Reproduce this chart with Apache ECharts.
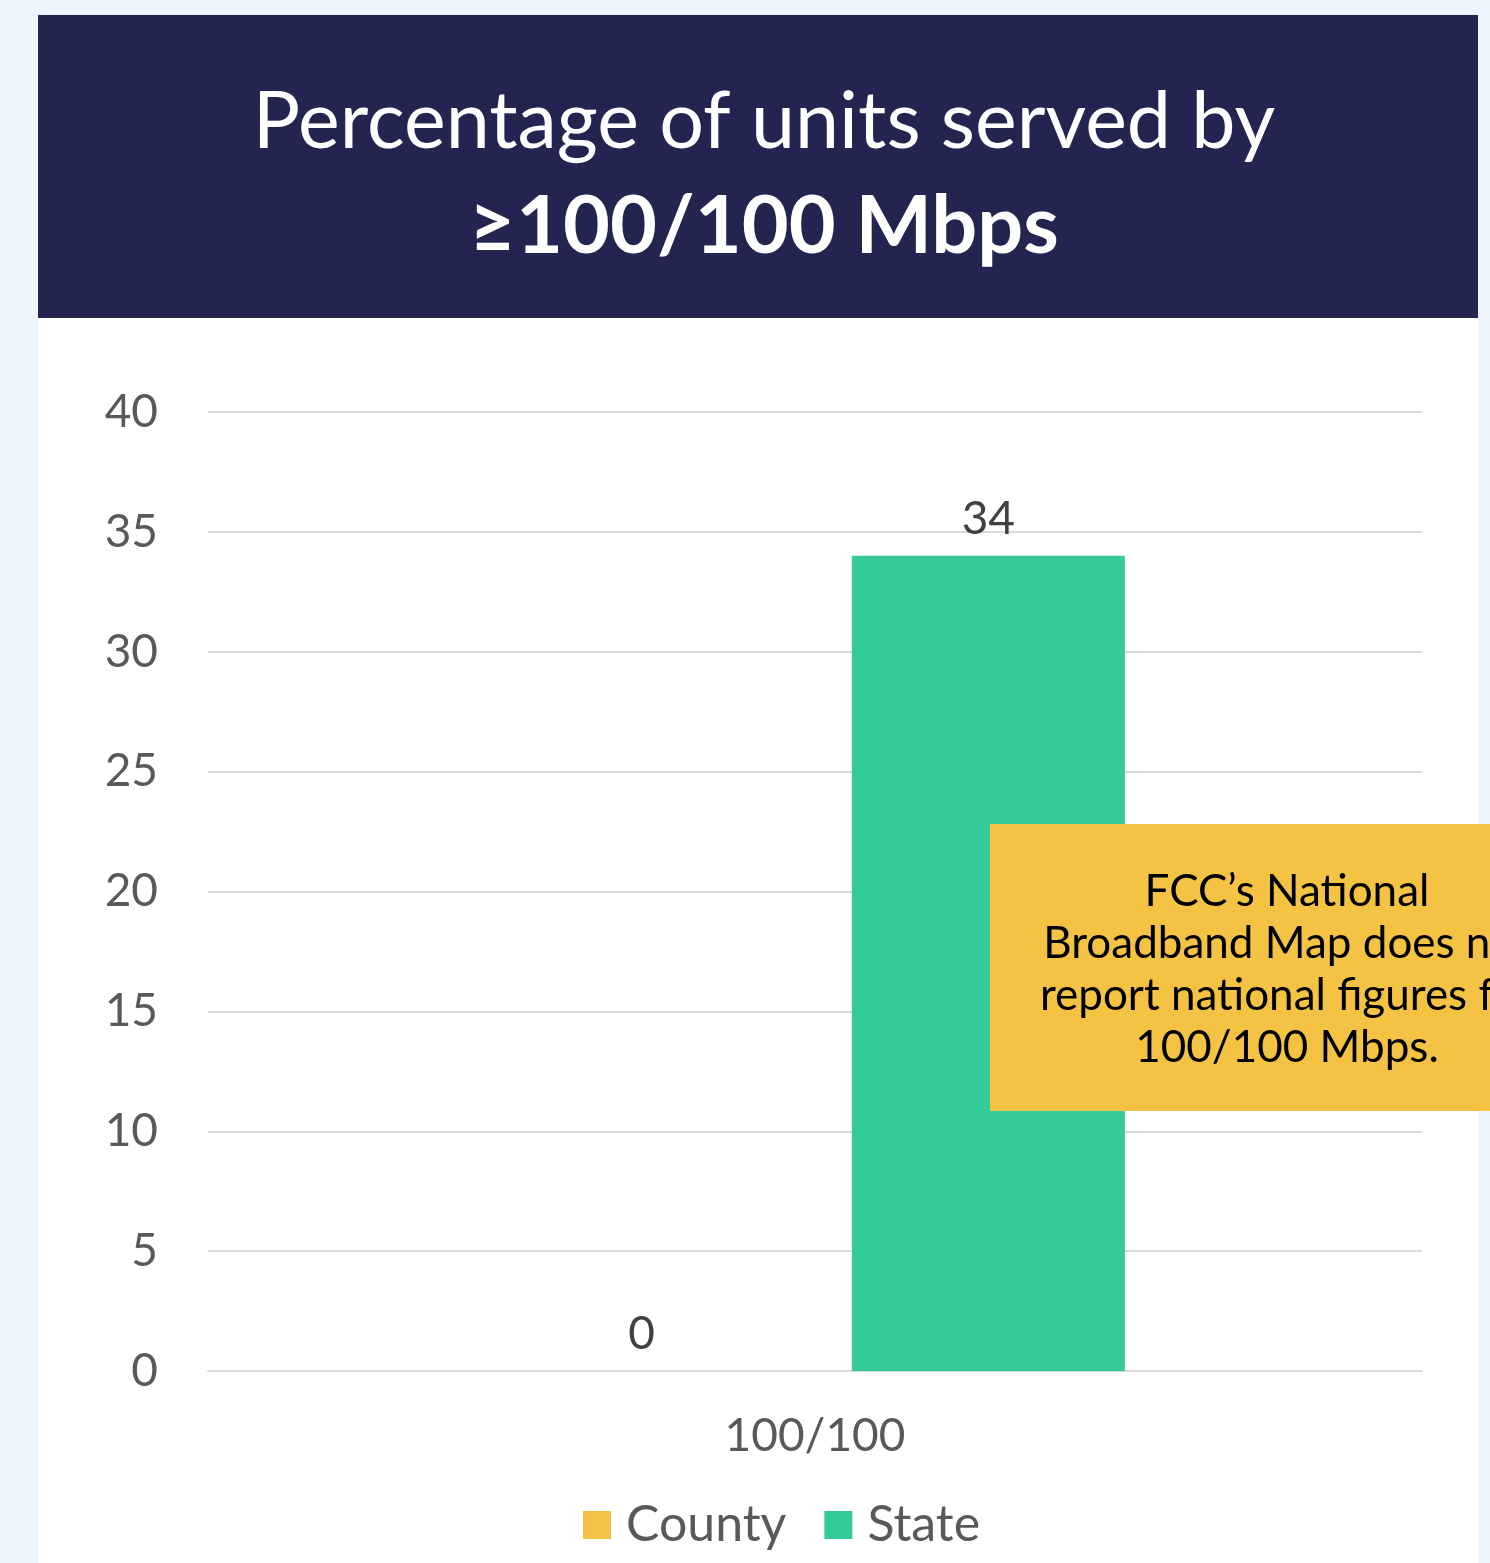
<!DOCTYPE html>
<html>
<head>
<meta charset="utf-8">
<script src="https://cdn.jsdelivr.net/npm/echarts@6/dist/echarts.min.js"></script>
<style>
  html, body { margin: 0; padding: 0; background: #eef5fe; }
  #main { width: 1490px; height: 1563px; }
</style>
</head>
<body>
<div id="main"></div>
<script>
// data
var categories = ['100/100']
var countyValues = [0]
var stateValues = [34]
var seriesNames = ['County', 'State']
var yTicks = [0, 5, 10, 15, 20, 25, 30, 35, 40]
var titleLine1 = 'Percentage of units served by'
var titleLine2 = '≥100/100 Mbps'
var noteLines = ['FCC\u2019s National', 'Broadband Map does not', 'report national figures for', '100/100 Mbps.']

var FONT = 'Lato'
var navy = '#232550'
var yellow = '#f4c343'
var green = '#35cb98'

var myChart = echarts.init(document.getElementById('main'))
myChart.setOption({
  backgroundColor: '#eef5fe',
  textStyle: { fontFamily: FONT },
  title: {
    text: '{a|' + titleLine1 + '}\n{b|' + titleLine2 + '}',
    left: 759,
    top: 66,
    textAlign: 'center',
    textStyle: {
      rich: {
        a: { fontFamily: FONT, fontSize: 79, color: '#ffffff', fontWeight: 'normal', lineHeight: 104 },
        b: { fontFamily: FONT, fontSize: 81, color: '#ffffff', fontWeight: 'bold', lineHeight: 104 }
      }
    }
  },
  graphic: [
    { type: 'rect', z: -10, shape: { x: 38, y: 15, width: 1440, height: 303 }, style: { fill: navy } },
    { type: 'rect', z: -10, shape: { x: 38, y: 318, width: 1440, height: 1245 }, style: { fill: '#ffffff' } },
    { type: 'rect', z: 100, shape: { x: 990, y: 824, width: 500, height: 287 }, style: { fill: yellow } },
    {
      type: 'text', z: 101, x: 1287, y: 866,
      style: {
        text: noteLines.join('\n'),
        fontFamily: FONT, fontSize: 44, lineHeight: 52,
        fill: '#000000', align: 'center', verticalAlign: 'top'
      }
    }
  ],
  legend: {
    data: seriesNames,
    left: 578,
    top: 1495,
    itemWidth: 28,
    itemHeight: 28,
    itemGap: 38,
    icon: 'rect',
    textStyle: { fontFamily: FONT, fontSize: 50, color: '#595959', padding: [0, 0, 0, 10] }
  },
  grid: { left: 208, right: 68, top: 412, bottom: 192 },
  xAxis: {
    type: 'category',
    data: categories,
    axisLine: { lineStyle: { color: '#d9d9d9', width: 2 } },
    axisTick: { show: false },
    axisLabel: { fontFamily: FONT, fontSize: 46, color: '#595959', margin: 42 }
  },
  yAxis: {
    type: 'value',
    min: yTicks[0],
    max: yTicks[yTicks.length - 1],
    interval: 5,
    axisLine: { show: false },
    axisTick: { show: false },
    splitLine: { lineStyle: { color: '#d9d9d9', width: 2 } },
    axisLabel: { fontFamily: FONT, fontSize: 46, color: '#595959', margin: 50 }
  },
  series: [
    {
      name: seriesNames[0], type: 'bar', data: countyValues,
      barWidth: 273, barGap: '27%',
      itemStyle: { color: yellow },
      label: { show: true, position: 'top', distance: 14, fontFamily: FONT, fontSize: 46, color: '#404040' }
    },
    {
      name: seriesNames[1], type: 'bar', data: stateValues,
      barWidth: 273, barGap: '27%',
      itemStyle: { color: green },
      label: { show: true, position: 'top', distance: 14, fontFamily: FONT, fontSize: 46, color: '#404040' }
    }
  ]
})
</script>
</body>
</html>
